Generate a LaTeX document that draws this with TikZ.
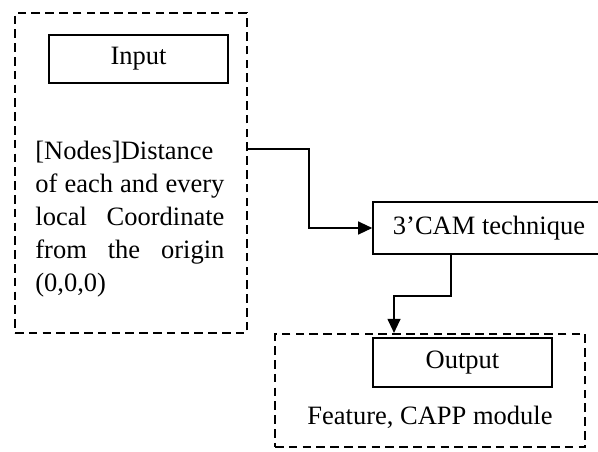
\documentclass[tikz,border=0pt]{standalone}
\usepackage{fontspec}
\setmainfont{Liberation Serif}
\usetikzlibrary{arrows.meta,positioning}

\newcommand{\loosepar}{\hyphenpenalty=10000\relax\tolerance=9999\relax}

\begin{document}
\begin{tikzpicture}[
    x=0.5pt, y=-0.5pt,
    font=\fontsize{13.25}{16.5}\selectfont,
    dashbox/.style={draw, line width=1.1pt, dash pattern=on 4.3pt off 2.6pt, inner sep=0pt},
    box/.style={draw, line width=0.8pt, inner sep=0pt, align=center},
    arr/.style={-{Triangle[length=7pt, width=6.5pt]}, line width=0.6pt}
  ]
    \useasboundingbox (0,0) rectangle (598,451);
    % input side
    \node[dashbox, minimum width=116pt, minimum height=160pt] (inpart) at (131,173) {};
    \node[box, minimum width=89.5pt, minimum height=24pt] (inbox) at (138.5,59) {Input};
    \node[align=justify, text width=94.5pt, inner sep=0pt, anchor=north west] (dist) at (35,140.5)
      {\loosepar [Nodes]Distance\linebreak of each and every\linebreak local Coordinate\linebreak from the origin\linebreak (0,0,0)};
    % technique
    \node[box, minimum width=116pt, minimum height=26pt] (cam) at (489,228) {3’CAM technique};
    % output side
    \node[dashbox, minimum width=155pt, minimum height=56.5pt] (outpart) at (430,390.5) {};
    \node[box, minimum width=89.5pt, minimum height=24.5pt] (outbox) at (462.5,362.5) {Output};
    \node (feat) at (430,417) {Feature, CAPP module};
    \draw[arr] (inpart.east |- 0,149) -- (309,149) |- (cam.west);
    \draw[arr] (cam.south -| 451,0) -- (451,296) -| (outpart.north -| 394,0);
  \end{tikzpicture}
\end{document}
